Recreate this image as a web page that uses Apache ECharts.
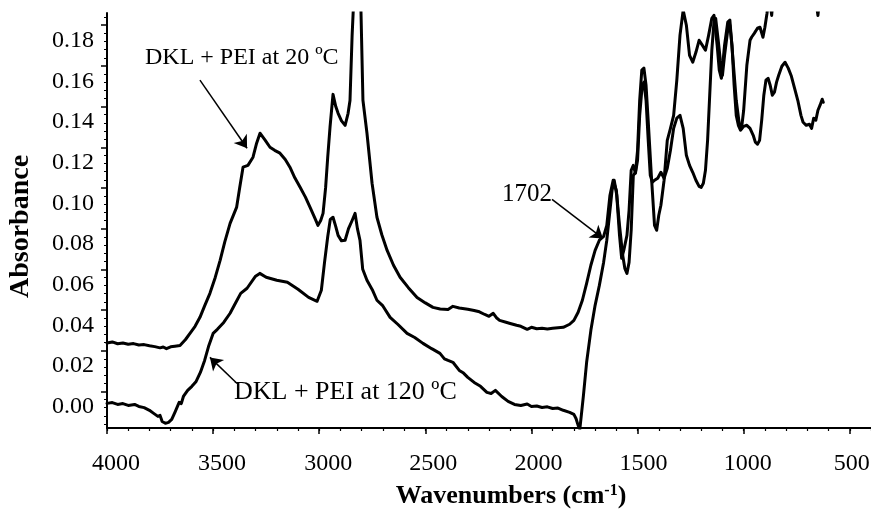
<!DOCTYPE html>
<html>
<head>
<meta charset="utf-8">
<script src="https://cdn.jsdelivr.net/npm/echarts@6/dist/echarts.min.js"></script>
<style>html,body{margin:0;padding:0;background:#fff}#c{width:871px;height:509px}</style>
</head>
<body>
<div id="c"></div>
<script>
// Wavenumber (cm-1), absorbance pairs
const spectrum20C = [
[4000,0.0238],[3975,0.0243],[3950,0.0234],[3925,0.0238],[3900,0.0232],[3875,0.0235],[3850,0.0228],[3825,0.0230],[3800,0.0224],[3775,0.0220],[3750,0.0214],[3735,0.0218],[3720,0.0210],[3700,0.0219],[3680,0.0222],[3656,0.0226],[3630,0.0255],[3609,0.0285],[3585,0.0320],[3562,0.0364],[3540,0.0420],[3515,0.0482],[3490,0.0560],[3467,0.0644],[3445,0.0735],[3420,0.0826],[3389,0.0906],[3375,0.1000],[3359,0.1102],[3336,0.1111],[3312,0.1151],[3295,0.1220],[3279,0.1269],[3255,0.1235],[3232,0.1200],[3210,0.1185],[3185,0.1171],[3160,0.1140],[3138,0.1102],[3115,0.1050],[3090,0.1003],[3065,0.0955],[3043,0.0905],[3020,0.0850],[3006,0.0816],[2993,0.0840],[2982,0.0875],[2970,0.1000],[2960,0.1150],[2949,0.1300],[2935,0.1460],[2922,0.1400],[2911,0.1367],[2895,0.1330],[2878,0.1308],[2864,0.1367],[2855,0.1430],[2845,0.1750],[2835,0.1980],[2820,0.2050],[2805,0.1950],[2794,0.1431],[2775,0.1269],[2751,0.1023],[2728,0.0856],[2705,0.0770],[2680,0.0693],[2650,0.0620],[2619,0.0561],[2580,0.0510],[2539,0.0462],[2500,0.0435],[2464,0.0413],[2430,0.0405],[2393,0.0403],[2370,0.0418],[2340,0.0410],[2300,0.0404],[2270,0.0398],[2250,0.0393],[2220,0.0378],[2200,0.0369],[2180,0.0384],[2165,0.0362],[2150,0.0349],[2120,0.0340],[2100,0.0334],[2070,0.0325],[2050,0.0320],[2020,0.0305],[2000,0.0315],[1975,0.0308],[1950,0.0310],[1925,0.0307],[1900,0.0310],[1850,0.0315],[1820,0.0330],[1800,0.0349],[1780,0.0389],[1760,0.0448],[1740,0.0531],[1720,0.0620],[1700,0.0693],[1680,0.0743],[1660,0.0762],[1645,0.0816],[1630,0.0964],[1615,0.1038],[1600,0.0989],[1585,0.0816],[1570,0.0669],[1560,0.0605],[1550,0.0580],[1540,0.0634],[1530,0.0792],[1520,0.1062],[1510,0.1077],[1500,0.1185],[1490,0.1431],[1480,0.1579],[1470,0.1589],[1460,0.1505],[1450,0.1333],[1435,0.1062],[1420,0.0816],[1410,0.0792],[1400,0.0866],[1390,0.0915],[1375,0.1038],[1360,0.1234],[1345,0.1293],[1330,0.1357],[1315,0.1530],[1300,0.1751],[1285,0.1874],[1270,0.1800],[1255,0.1652],[1240,0.1618],[1225,0.1667],[1210,0.1726],[1195,0.1702],[1180,0.1677],[1165,0.1751],[1150,0.1834],[1140,0.1849],[1125,0.1702],[1115,0.1579],[1105,0.1539],[1090,0.1702],[1075,0.1815],[1065,0.1825],[1050,0.1628],[1035,0.1431],[1020,0.1308],[1010,0.1293],[1000,0.1382],[985,0.1603],[970,0.1726],[962,0.1742],[950,0.1760],[935,0.1785],[923,0.1790],[909,0.1741],[900,0.1790],[890,0.1859],[880,0.1950],[868,0.1848],[858,0.1980],[840,0.2100],[800,0.2200],[750,0.2140],[700,0.2050],[662,0.1940],[650,0.1848],[640,0.1960],[625,0.2000]
];
const spectrum120C = [
[4000,-0.0059],[3975,-0.0055],[3950,-0.0064],[3925,-0.0060],[3900,-0.0069],[3870,-0.0064],[3850,-0.0074],[3825,-0.0080],[3800,-0.0093],[3780,-0.0108],[3760,-0.0123],[3750,-0.0118],[3740,-0.0148],[3725,-0.0157],[3710,-0.0152],[3695,-0.0138],[3680,-0.0103],[3660,-0.0054],[3650,-0.0060],[3640,-0.0025],[3620,0.0005],[3600,0.0025],[3580,0.0049],[3560,0.0093],[3540,0.0152],[3520,0.0226],[3500,0.0285],[3480,0.0305],[3450,0.0339],[3420,0.0384],[3400,0.0423],[3370,0.0482],[3340,0.0507],[3300,0.0566],[3280,0.0580],[3250,0.0561],[3200,0.0546],[3150,0.0536],[3100,0.0502],[3050,0.0462],[3010,0.0443],[2990,0.0497],[2975,0.0634],[2960,0.0760],[2948,0.0845],[2935,0.0856],[2922,0.0810],[2911,0.0767],[2895,0.0740],[2878,0.0743],[2862,0.0800],[2845,0.0840],[2831,0.0875],[2820,0.0800],[2808,0.0743],[2795,0.0600],[2775,0.0546],[2750,0.0500],[2728,0.0448],[2700,0.0420],[2666,0.0364],[2630,0.0330],[2586,0.0285],[2550,0.0265],[2511,0.0236],[2470,0.0210],[2431,0.0187],[2410,0.0160],[2393,0.0152],[2370,0.0143],[2340,0.0103],[2320,0.0090],[2300,0.0069],[2270,0.0044],[2240,0.0025],[2210,-0.0005],[2190,-0.0010],[2170,0.0005],[2140,-0.0025],[2110,-0.0049],[2080,-0.0064],[2050,-0.0069],[2020,-0.0062],[2000,-0.0074],[1975,-0.0072],[1950,-0.0079],[1925,-0.0076],[1900,-0.0084],[1875,-0.0082],[1850,-0.0093],[1820,-0.0103],[1800,-0.0113],[1790,-0.0133],[1780,-0.0167],[1772,-0.0185],[1765,-0.0118],[1755,-0.0020],[1740,0.0143],[1720,0.0300],[1700,0.0423],[1680,0.0521],[1660,0.0634],[1645,0.0743],[1630,0.0890],[1620,0.0989],[1610,0.1038],[1598,0.0964],[1585,0.0767],[1575,0.0654],[1565,0.0693],[1550,0.0767],[1540,0.0890],[1530,0.1087],[1520,0.1111],[1510,0.1072],[1500,0.1136],[1490,0.1357],[1478,0.1505],[1470,0.1520],[1460,0.1431],[1450,0.1239],[1440,0.1062],[1430,0.1028],[1420,0.1038],[1405,0.1048],[1390,0.1077],[1375,0.1048],[1360,0.1097],[1345,0.1185],[1330,0.1293],[1315,0.1343],[1300,0.1357],[1285,0.1293],[1270,0.1161],[1255,0.1111],[1240,0.1077],[1225,0.1038],[1210,0.1008],[1200,0.1003],[1190,0.1023],[1180,0.1087],[1170,0.1234],[1160,0.1456],[1150,0.1677],[1140,0.1815],[1132,0.1834],[1120,0.1726],[1110,0.1628],[1100,0.1554],[1090,0.1652],[1075,0.1776],[1065,0.1800],[1055,0.1702],[1045,0.1505],[1035,0.1357],[1025,0.1308],[1015,0.1284],[1000,0.1303],[985,0.1308],[970,0.1293],[955,0.1259],[945,0.1225],[935,0.1215],[925,0.1234],[915,0.1333],[905,0.1456],[895,0.1530],[885,0.1539],[875,0.1505],[865,0.1456],[855,0.1471],[845,0.1520],[835,0.1554],[820,0.1598],[805,0.1618],[790,0.1589],[775,0.1549],[760,0.1490],[745,0.1431],[730,0.1357],[720,0.1323],[705,0.1308],[690,0.1313],[680,0.1293],[670,0.1343],[660,0.1333],[650,0.1382],[640,0.1407],[630,0.1436],[625,0.1421]
];
const xTickLabels = [4000, 3500, 3000, 2500, 2000, 1500, 1000, 500];
const yTickLabels = [0, 0.02, 0.04, 0.06, 0.08, 0.10, 0.12, 0.14, 0.16, 0.18];
const annotations = [
  {text: 'DKL + PEI at 20 ºC', from: [3562, 0.153], to: [3340, 0.1195]},
  {text: 'DKL + PEI at 120 ºC', from: [3387, 0.0039], to: [3515, 0.0167]},
  {text: '1702', from: [1903, 0.0944], to: [1663, 0.0752]}
];

const FONT = 'Liberation Serif';
// the printed tick labels sit slightly right of their ticks (px shift per label)
const xLabelShift = [9, 9, 9, 8, 7, 6, 4, 2];
const xLabelRich = {};
xTickLabels.forEach((v, i) => {
  xLabelRich['s' + i] = {fontFamily: FONT, fontSize: 24, color: '#000', padding: [0, 0, 0, 2 * xLabelShift[i]]};
});

const yMinor = [];
for (let i = 0; i < yTickLabels.length - 1; i++) {
  for (let k = 1; k < 5; k++) yMinor.push(+(yTickLabels[i] + k * 0.004).toFixed(4));
}
yMinor.unshift(-0.004, -0.008, -0.012, -0.016);
yMinor.push(0.184);

const chart = echarts.init(document.getElementById('c'), null, {renderer: 'canvas'});
chart.setOption({
  animation: false,
  backgroundColor: '#fff',
  grid: {left: 107, right: 0, top: 13, bottom: 81, containLabel: false, outerBoundsMode: 'none'},
  xAxis: [{
    type: 'value', inverse: true, min: 400, max: 4000, interval: 100,
    axisLine: {show: true, onZero: false, lineStyle: {color: '#000', width: 2}},
    axisTick: {show: true, length: 3, lineStyle: {color: '#000', width: 1.2}},
    axisLabel: {customValues: xTickLabels,
      formatter: v => '{s' + xTickLabels.indexOf(v) + '|' + v + '}',
      rich: xLabelRich, fontFamily: FONT, fontSize: 24, color: '#000', margin: 24},
    splitLine: {show: false},
    name: 'Wavenumbers (cm{sup|-1})', nameLocation: 'middle', nameGap: 55,
    nameTextStyle: {fontFamily: FONT, fontWeight: 'bold', fontSize: 26, color: '#000', padding: [0, 0, 0, 44],
      rich: {sup: {fontFamily: FONT, fontWeight: 'bold', fontSize: 16, color: '#000', verticalAlign: 'top'}}}
  }, {
    type: 'value', inverse: true, min: 400, max: 4000, position: 'bottom',
    axisLine: {show: false, onZero: false},
    axisTick: {show: true, customValues: xTickLabels, length: 6, lineStyle: {color: '#000', width: 1.5}},
    axisLabel: {show: false}, splitLine: {show: false}
  }],
  yAxis: [{
    type: 'value', min: -0.018, max: 0.186,
    axisLine: {show: true, onZero: false, lineStyle: {color: '#000', width: 2}},
    axisTick: {show: true, customValues: yTickLabels, length: 6, lineStyle: {color: '#000', width: 1.5}},
    axisLabel: {customValues: yTickLabels, formatter: v => v.toFixed(2), fontFamily: FONT, fontSize: 24, color: '#000', margin: 13, verticalAlign: 'top', lineHeight: 31},
    splitLine: {show: false},
    name: 'Absorbance', nameLocation: 'middle', nameGap: 72, nameRotate: 90,
    nameTextStyle: {fontFamily: FONT, fontWeight: 'bold', fontSize: 28, color: '#000', padding: [0, 12, 0, 0]}
  }, {
    type: 'value', min: -0.018, max: 0.186, position: 'left',
    axisLine: {show: false, onZero: false},
    axisTick: {show: true, customValues: yMinor, length: 3, lineStyle: {color: '#000', width: 1}},
    axisLabel: {show: false}, splitLine: {show: false}
  }],
  series: [{
    name: 'DKL + PEI at 20 ºC', type: 'line', xAxisIndex: 0, yAxisIndex: 0,
    data: spectrum20C, showSymbol: false, clip: true,
    lineStyle: {color: '#000', width: 3, join: 'round', cap: 'round'},
    markLine: {
      silent: true, symbol: ['none', 'arrow'], symbolSize: 12,
      lineStyle: {color: '#000', width: 1.5, type: 'solid'}, label: {show: false},
      data: annotations.map(a => [{coord: a.from}, {coord: a.to}])
    }
  }, {
    name: 'DKL + PEI at 120 ºC', type: 'line', xAxisIndex: 0, yAxisIndex: 0,
    data: spectrum120C, showSymbol: false, clip: true,
    lineStyle: {color: '#000', width: 3, join: 'round', cap: 'round'}
  }],
  graphic: [
    {type: 'text', x: 145, y: 58, style: {text: annotations[0].text, font: '24px "Liberation Serif"', fill: '#000', textVerticalAlign: 'middle'}},
    {type: 'text', x: 234, y: 392, style: {text: annotations[1].text, font: '26px "Liberation Serif"', fill: '#000', textVerticalAlign: 'middle'}},
    {type: 'text', x: 502, y: 194, style: {text: annotations[2].text, font: '25px "Liberation Serif"', fill: '#000', textVerticalAlign: 'middle'}}
  ]
});
</script>
</body>
</html>
